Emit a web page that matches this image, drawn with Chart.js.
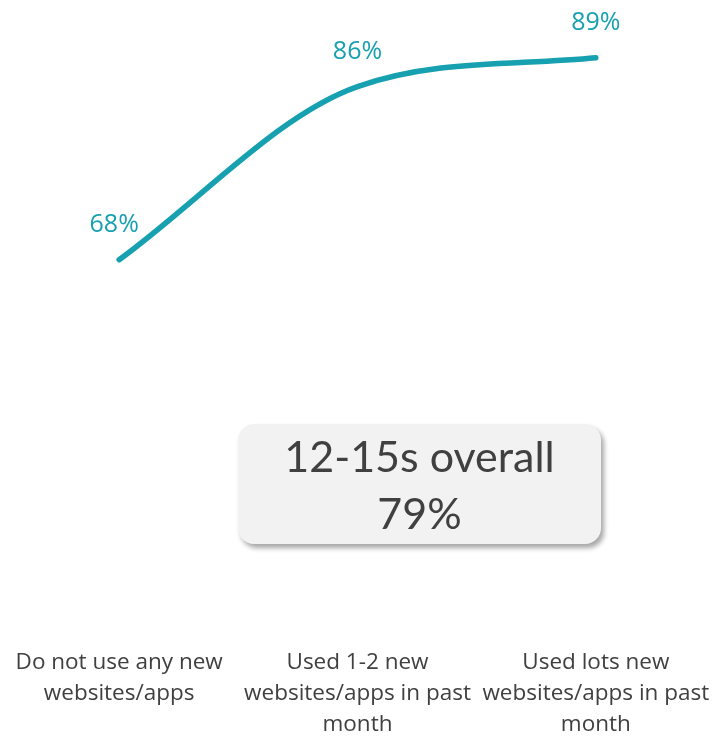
<!DOCTYPE html>
<html>
<head>
<meta charset="utf-8">
<script src="https://cdn.jsdelivr.net/npm/chart.js@4/dist/chart.umd.min.js"></script>
<style>
  html, body { margin: 0; padding: 0; background: #ffffff; }
  #wrap { position: relative; width: 727px; height: 738px; }
  #box {
    position: absolute; left: 238px; top: 424px; width: 363px; height: 120px;
    background: #f2f2f2; border-radius: 16px;
    box-shadow: 3px 4px 5px rgba(0,0,0,0.35);
    font-family: Lato, "Open Sans", sans-serif; color: #404040;
    font-size: 43px; line-height: 57px; text-align: center;
    display: flex; flex-direction: column; justify-content: center;
  }
</style>
</head>
<body>
<div id="wrap">
  <canvas id="c" width="727" height="738"></canvas>
  <div id="box"><div>12-15s overall</div><div>79%</div></div>
</div>
<script>
const categories = [
  ["Do not use any new", "websites/apps"],
  ["Used 1-2 new", "websites/apps in past", "month"],
  ["Used lots new", "websites/apps in past", "month"]
];
const values = [68, 86, 89];
const valueLabels = ["68%", "86%", "89%"];
const lineColor = "#16a0b0";

const labelPlugin = {
  id: "pointLabels",
  afterDatasetsDraw(chart) {
    const ctx = chart.ctx;
    const meta = chart.getDatasetMeta(0);
    ctx.save();
    ctx.fillStyle = lineColor;
    ctx.font = "25px 'Open Sans', sans-serif";
    ctx.textAlign = "center";
    ctx.textBaseline = "middle";
    meta.data.forEach((pt, i) => {
      ctx.fillText(valueLabels[i], pt.x - (i === 0 ? 5 : 0), pt.y - 35);
    });
    ctx.restore();
  }
};

new Chart(document.getElementById("c"), {
  type: "line",
  data: {
    labels: categories,
    datasets: [{
      data: values,
      borderColor: lineColor,
      borderWidth: 5.5,
      borderCapStyle: "round",
      cubicInterpolationMode: "monotone",
      pointRadius: 0,
      fill: false
    }]
  },
  options: {
    responsive: false,
    animation: false,
    layout: { padding: { left: 0, right: 12, top: 0, bottom: -14 } },
    plugins: { legend: { display: false }, tooltip: { enabled: false } },
    scales: {
      x: {
        offset: true,
        grid: { display: false, drawTicks: false },
        border: { display: false },
        ticks: {
          color: "#404040",
          font: { family: "'Open Sans', sans-serif", size: 22.5, lineHeight: 1.38 },
          padding: 12,
          maxRotation: 0,
          autoSkip: false
        }
      },
      y: {
        display: false,
        min: 29,
        max: 95
      }
    }
  },
  plugins: [labelPlugin]
});
</script>
</body>
</html>
